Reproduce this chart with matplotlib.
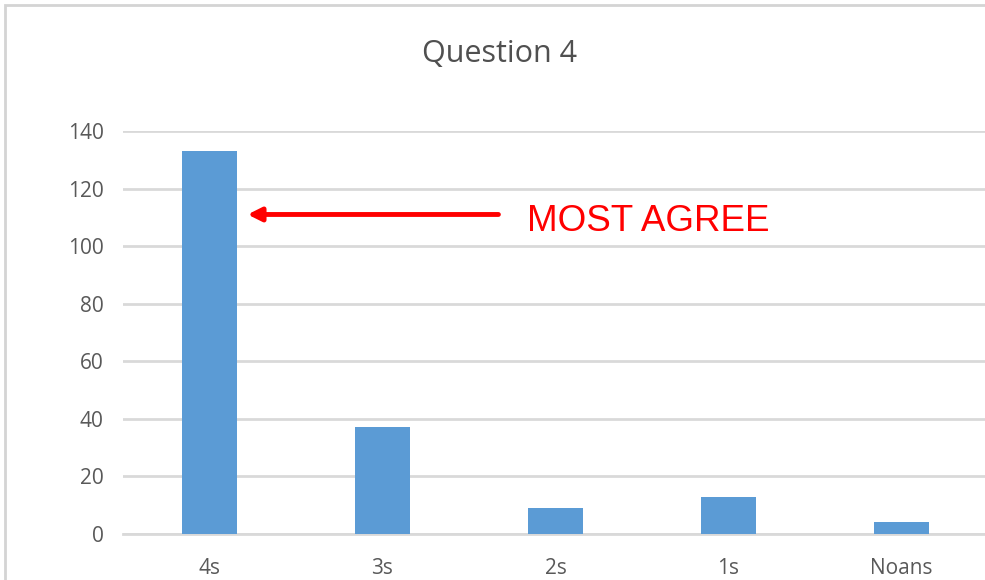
import matplotlib
matplotlib.use("Agg")
import matplotlib.pyplot as plt
from matplotlib.patches import Rectangle

categories = ["4s", "3s", "2s", "1s", "Noans"]
values = [133, 37, 9, 13, 4]
yticks = [0, 20, 40, 60, 80, 100, 120, 140]
annotation_text = "MOST AGREE"
annotation_y = 111

plt.rcParams['font.family'] = ['Open Sans', 'DejaVu Sans']

fig = plt.figure(figsize=(9.85, 5.8), dpi=100)
fig.patch.set_facecolor("white")

# screenshot border
fig.patches.append(Rectangle((5/985, -0.1), 1.2, 575/580 + 0.1, transform=fig.transFigure,
                             fill=False, edgecolor="#d4d4d4", linewidth=2, zorder=0))

ax = fig.add_axes([123/985, 46/580, 865/985, (534-131)/580])
x = list(range(len(categories)))
ax.bar(x, values, width=0.32, color="#5b9bd5", zorder=3)
ax.set_xlim(-0.5, len(categories) - 0.5)
ax.set_ylim(0, 140)
ax.set_yticks(yticks)
ax.set_xticks(x)
ax.set_xticklabels(categories)
ax.yaxis.grid(True, color="#d9d9d9", linewidth=2, zorder=0)
ax.set_axisbelow(True)
for s in ["top", "right", "left"]:
    ax.spines[s].set_visible(False)
ax.spines["bottom"].set_color("#d9d9d9")
ax.spines["bottom"].set_linewidth(2)
ax.tick_params(axis="both", length=0, colors="#595959", labelsize=15)
ax.tick_params(axis="y", pad=14)
ax.tick_params(axis="x", pad=17)

fig.text(500/985, 1 - 54/580, "Question 4", ha="center", va="center",
         fontsize=22, color="#505050")

ax.annotate("", xy=(0.22, annotation_y), xytext=(1.67, annotation_y),
            arrowprops=dict(arrowstyle="-|>,head_length=0.8,head_width=0.4",
                            color="#ff0000", lw=3.5, shrinkA=0, shrinkB=0))
ax.text(1.835, annotation_y - 2.5, annotation_text, color="#ff0000", fontsize=26.5,
        ha="left", va="center", family=["Liberation Sans", "DejaVu Sans"])

fig.savefig("out.png", dpi=100)
